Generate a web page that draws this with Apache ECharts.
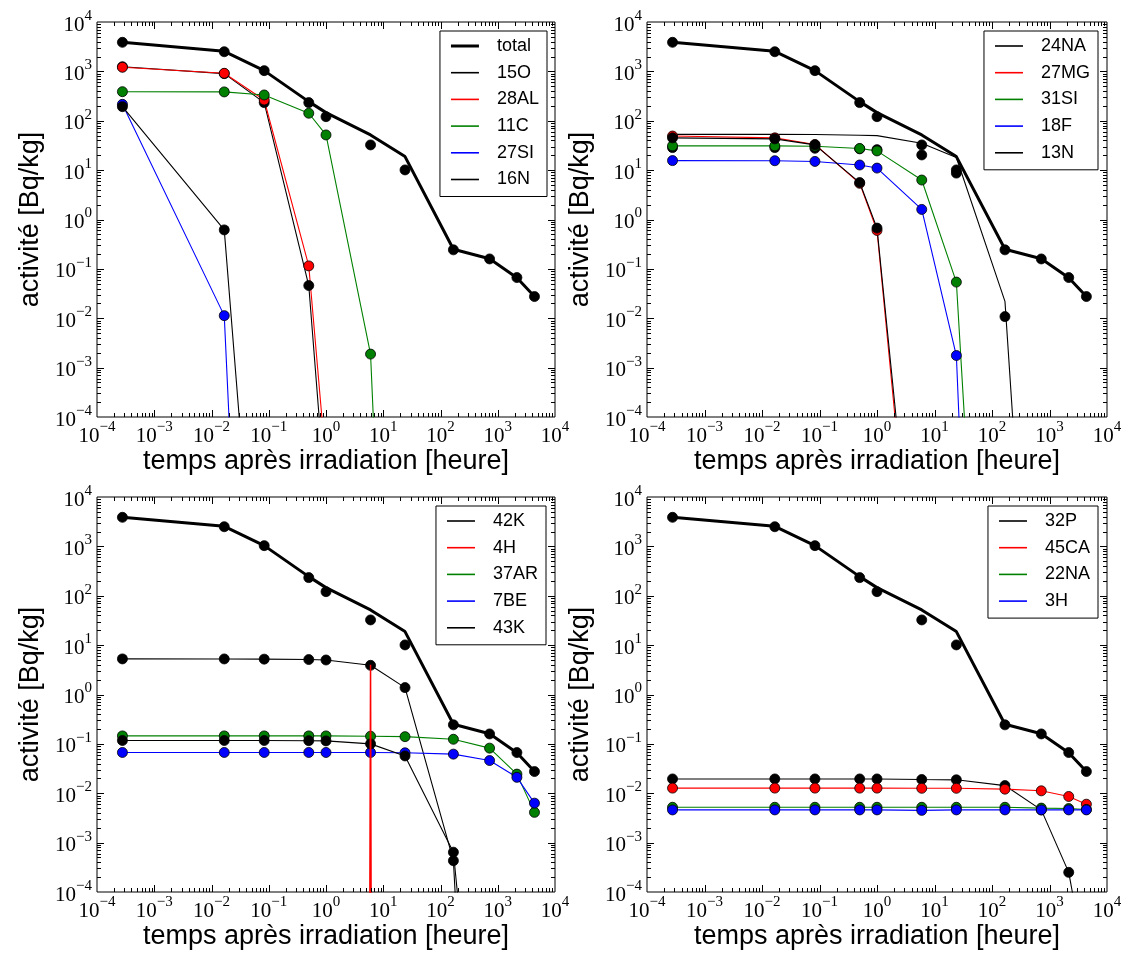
<!DOCTYPE html>
<html>
<head>
<meta charset="utf-8">
<script src="https://cdn.jsdelivr.net/npm/echarts@6/dist/echarts.min.js"></script>
<style>
  html, body { margin: 0; padding: 0; background: #fff; }
  #chart { width: 1125px; height: 957px; }
</style>
</head>
<body>
<div id="chart"></div>
<script>
// ---------- DATA ----------
// time after irradiation [hours]
const times = [2.78e-4, 0.0167, 0.0833, 0.5, 1, 6, 24, 168, 720, 2160, 4380];

// total activity: computed line and measured markers
const totalLine  = [3880, 2550, 1035, 244, 146, 51.6, 18.8, 0.25, 0.16, 0.066, 0.0275];
const totalMarks = [3880, 2500, 1035, 233, 121, 32.4, 10.1, 0.243, 0.159, 0.0667, 0.0275];

// panel 1
const o15  = [1240, 900, 233, 0.046, 1.7e-6, null, null, null, null, null, null];
const al28 = [1210, 914, 263, 0.115, 1.08e-5, null, null, null, null, null, null];
const c11  = [388, 384, 333, 142, 51.6, 0.00188, 2e-19, null, null, null, null];
const si27 = [215, 0.0113, 5e-20, null, null, null, null, null, null, null, null];
const n16  = [193, 0.616, 4.6e-11, null, null, null, null, null, null, null, null];

// panel 2
const na24Line  = [53, 53, 52.5, 51, 50, 35, 18, 0.022, 1.9e-13, null, null];
const na24Marks = [28.6, 28.6, 27.7, 27, 26, 20.3, 8.7, 0.0108, null, null, null];
const mg27 = [49, 45, 33, 5.4, 0.6, 2.5e-10, null, null, null, null, null];
const si31 = [31, 31, 30.5, 27.4, 24.5, 6.3, 0.054, 1.5e-18, null, null, null];
const f18  = [15.6, 15.5, 15, 12.7, 11, 1.6, 0.00176, 5e-27, null, null, null];
const n13  = [45, 43, 32.5, 5.6, 0.67, 7e-10, null, null, null, null, null];

// panel 3
const k42  = [5.26, 5.25, 5.2, 5.1, 5.0, 3.9, 1.38, 4.3e-4, 1e-17, null, null];
const h4   = [1e-300, 1e-300, 1e-300, 1e-300, 1e-300, 4.0, 1e-300, 1e-300, 1e-300, 1e-300, 1e-300];
const ar37 = [0.145, 0.145, 0.145, 0.145, 0.145, 0.143, 0.14, 0.124, 0.082, 0.0244, 0.0041];
const be7  = [0.067, 0.067, 0.067, 0.067, 0.067, 0.067, 0.066, 0.062, 0.046, 0.021, 0.0063];
const k43  = [0.117, 0.117, 0.117, 0.116, 0.115, 0.1, 0.057, 6.4e-4, 2.3e-11, null, null];

// panel 4
const p32  = [0.0195, 0.0195, 0.0195, 0.0195, 0.0195, 0.019, 0.0187, 0.0143, 0.0046, 2.5e-4, 2.8e-6];
const ca45 = [0.0127, 0.0127, 0.0127, 0.0127, 0.0127, 0.0126, 0.0126, 0.0121, 0.0112, 0.0086, 0.006];
const na22 = [0.0052, 0.0052, 0.0052, 0.0052, 0.0052, 0.0052, 0.0052, 0.0052, 0.005, 0.0049, 0.0047];
const h3   = [0.0046, 0.0046, 0.0046, 0.0046, 0.0046, 0.0045, 0.0046, 0.0046, 0.0046, 0.0046, 0.0046];

// axis ranges (decade exponents) and labels
const xExpRange = [-4, 4];
const yExpRange = [-4, 4];
const xTitle = 'temps après irradiation [heure]';
const yTitle = 'activité [Bq/kg]';

const panels = [
  [ {name:'15O', color:'#000000', line:o15, marks:o15},
    {name:'28AL', color:'#ff0000', line:al28, marks:al28},
    {name:'11C', color:'#008000', line:c11, marks:c11},
    {name:'27SI', color:'#0000ff', line:si27, marks:si27},
    {name:'16N', color:'#000000', line:n16, marks:n16} ],
  [ {name:'24NA', color:'#000000', line:na24Line, marks:na24Marks},
    {name:'27MG', color:'#ff0000', line:mg27, marks:mg27},
    {name:'31SI', color:'#008000', line:si31, marks:si31},
    {name:'18F', color:'#0000ff', line:f18, marks:f18},
    {name:'13N', color:'#000000', line:n13, marks:n13} ],
  [ {name:'42K', color:'#000000', line:k42, marks:k42},
    {name:'4H', color:'#ff0000', line:h4, marks:null, top:true},
    {name:'37AR', color:'#008000', line:ar37, marks:ar37},
    {name:'7BE', color:'#0000ff', line:be7, marks:be7},
    {name:'43K', color:'#000000', line:k43, marks:k43} ],
  [ {name:'32P', color:'#000000', line:p32, marks:p32},
    {name:'45CA', color:'#ff0000', line:ca45, marks:ca45},
    {name:'22NA', color:'#008000', line:na22, marks:na22},
    {name:'3H', color:'#0000ff', line:h3, marks:h3} ]
];
const showTotalInLegend = [true, false, false, false];

// ---------- LAYOUT ----------
const gridPos = [
  {left: 97, top: 22, width: 458, height: 395},
  {left: 647, top: 22, width: 460, height: 395},
  {left: 97, top: 497, width: 458, height: 395},
  {left: 647, top: 497, width: 460, height: 395}
];
const legendPos = [
  {right: 578, top: 31}, {right: 27, top: 31}, {right: 579, top: 506}, {right: 27, top: 506}
];

const yMin = Math.pow(10, yExpRange[0]);

function pairs(arr) {
  const out = [];
  times.forEach((t, k) => { if (arr[k] != null) out.push([t, arr[k]]); });
  return out;
}
function markPairs(arr) {
  return pairs(arr).filter(p => p[1] >= yMin);
}

const sup = v => {
  const e = Math.round(Math.log10(v));
  return '{b|10}{s|' + (e < 0 ? '\u2212' + (-e) : e) + '}';
};
const rich = {
  b: {fontFamily: 'Liberation Serif', fontSize: 21, color: '#000', verticalAlign: 'bottom', lineHeight: 27},
  s: {fontFamily: 'Liberation Serif', fontSize: 15, color: '#000', verticalAlign: 'top', lineHeight: 15}
};

// tick marks (major + minor, all four sides)
const tickVals = [];
for (let k = xExpRange[0]; k < xExpRange[1]; k++) {
  for (let m = 1; m <= 9; m++) tickVals.push([m * Math.pow(10, k), m * Math.pow(10, k), m === 1 ? 1 : 0]);
}
function seg(x1, y1, x2, y2) {
  return {type: 'line', shape: {x1, y1, x2, y2}, style: {stroke: '#000', lineWidth: 1}};
}
function renderTicks(params, api) {
  const v = api.value(0);
  const major = api.value(2) === 1;
  const cs = params.coordSys;
  const L = major ? 7 : 4;
  const px = Math.round(api.coord([v, 1])[0]) + 0.5;
  const py = Math.round(api.coord([1, v])[1]) + 0.5;
  const x0 = cs.x, x1 = cs.x + cs.width, y0 = cs.y, y1 = cs.y + cs.height;
  const children = [];
  if (px > x0 + 1 && px < x1 - 1) { children.push(seg(px, y1, px, y1 - L), seg(px, y0, px, y0 + L)); }
  if (py > y0 + 1 && py < y1 - 1) { children.push(seg(x0, py, x0 + L, py), seg(x1, py, x1 - L, py)); }
  return {type: 'group', children};
}

const grids = [], xAxes = [], yAxes = [], series = [], legends = [];
const thin = 'path://M0 0H28V1.6H0Z', thick = 'path://M0 0H28V3H0Z';

panels.forEach((entries, i) => {
  grids.push(Object.assign({show: true, borderColor: '#000', borderWidth: 1, backgroundColor: 'transparent'}, gridPos[i]));
  xAxes.push({
    type: 'log', logBase: 10, gridIndex: i,
    min: Math.pow(10, xExpRange[0]), max: Math.pow(10, xExpRange[1]),
    axisLine: {show: false}, axisTick: {show: false}, splitLine: {show: false},
    axisLabel: {formatter: sup, rich: rich, margin: 3, interval: 0, showMinLabel: true, showMaxLabel: true},
    name: xTitle, nameLocation: 'middle', nameGap: 31,
    nameTextStyle: {fontFamily: 'Liberation Sans', fontSize: 27, color: '#000'}
  });
  yAxes.push({
    type: 'log', logBase: 10, gridIndex: i,
    min: Math.pow(10, yExpRange[0]), max: Math.pow(10, yExpRange[1]),
    axisLine: {show: false}, axisTick: {show: false}, splitLine: {show: false},
    axisLabel: {formatter: sup, rich: rich, margin: 5, interval: 0, showMinLabel: true, showMaxLabel: true},
    name: yTitle, nameLocation: 'middle', nameGap: 53,
    nameTextStyle: {fontFamily: 'Liberation Sans', fontSize: 27, color: '#000'}
  });

  // total
  series.push({
    type: 'line', name: 'total', xAxisIndex: i, yAxisIndex: i, data: pairs(totalLine),
    symbol: 'none', showSymbol: false, lineStyle: {color: '#000', width: 3}, itemStyle: {color: '#000'},
    clip: true, silent: true, z: 2
  });
  series.push({
    type: 'scatter', name: '_totalMarks' + i, xAxisIndex: i, yAxisIndex: i, data: markPairs(totalMarks),
    symbol: 'circle', symbolSize: 10, itemStyle: {color: '#000', borderColor: '#000', borderWidth: 0.8, opacity: 1},
    clip: true, silent: true, z: 2
  });
  entries.forEach(e => {
    series.push({
      type: 'line', name: e.name, xAxisIndex: i, yAxisIndex: i, data: pairs(e.line),
      symbol: 'none', showSymbol: false, lineStyle: {color: e.color, width: e.top ? 1.5 : 1.1}, itemStyle: {color: e.color},
      clip: true, silent: true, z: e.top ? 3 : 2
    });
    if (e.marks) {
      series.push({
        type: 'scatter', name: '_' + e.name + 'Marks', xAxisIndex: i, yAxisIndex: i, data: markPairs(e.marks),
        symbol: 'circle', symbolSize: 10, itemStyle: {color: e.color, borderColor: '#000', borderWidth: 0.8, opacity: 1},
        clip: true, silent: true, z: 2
      });
    }
  });
  series.push({
    type: 'custom', name: '_ticks' + i, xAxisIndex: i, yAxisIndex: i, data: tickVals,
    renderItem: renderTicks, silent: true, z: 5, clip: false
  });

  const ldata = [];
  if (showTotalInLegend[i]) ldata.push({name: 'total', icon: thick});
  entries.forEach(e => ldata.push({name: e.name, icon: thin}));
  legends.push(Object.assign({
    data: ldata, orient: 'vertical', selectedMode: false,
    itemWidth: 28, itemHeight: 17, itemGap: 8.7, padding: [6, 8, 8, 11],
    borderColor: '#000', borderWidth: 1, borderRadius: 0, backgroundColor: '#fff',
    itemStyle: {borderWidth: 0},
    textStyle: {fontFamily: 'Liberation Sans', fontSize: 18, color: '#000', padding: [0, 0, 0, 13]},
    z: 10
  }, legendPos[i]));
});

const chart = echarts.init(document.getElementById('chart'), null, {renderer: 'canvas'});
chart.setOption({
  animation: false,
  backgroundColor: '#fff',
  grid: grids, xAxis: xAxes, yAxis: yAxes, series: series, legend: legends
});
</script>
</body>
</html>
